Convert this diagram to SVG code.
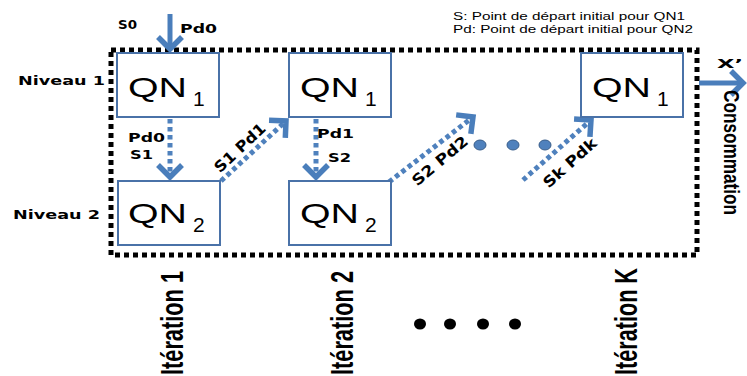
<svg xmlns="http://www.w3.org/2000/svg" width="747" height="376" viewBox="0 0 747 376">
<style>
.box{fill:#fff;stroke:#4a72a8;stroke-width:2}
.qn{font-family:"Liberation Sans",Arial,sans-serif;font-size:28px;fill:#000}
.sub{font-family:"Liberation Sans",Arial,sans-serif;font-size:21px;fill:#000}
.lbl{font-family:"DejaVu Sans",Verdana,sans-serif;font-weight:bold;font-size:13px;fill:#000}
.dlbl{font-family:"DejaVu Sans",Verdana,sans-serif;font-weight:bold;font-size:15px;fill:#000}
.leg{font-family:"Liberation Sans",Arial,sans-serif;font-size:10px;fill:#000}
.big{font-family:"Liberation Sans",Arial,sans-serif;font-weight:bold;font-size:31px;fill:#000}
.cons{font-family:"Liberation Sans",Arial,sans-serif;font-weight:bold;font-size:22px;fill:#000}
.solid{stroke:#4a7ebb;stroke-width:5;fill:none}
.dot{stroke:#4f81bd;stroke-width:5;fill:none;stroke-dasharray:4.5 3.5}
.frame{fill:none;stroke:#000;stroke-width:5;stroke-dasharray:5 4}
.bdot{fill:#4f81bd;stroke:#385d8a;stroke-width:1}
</style>
<defs>
<marker id="chev" markerUnits="userSpaceOnUse" markerWidth="30" markerHeight="30" refX="0" refY="0" orient="auto" overflow="visible">
<path d="M-12,-12 L0,0 L-12,12" fill="none" stroke="#4a7ebb" stroke-width="5.5" stroke-dasharray="none"/>
</marker>
</defs>

<rect class="frame" x="111" y="50" width="586" height="205"/>

<g id="legend">
<text class="leg" x="453" y="20" textLength="232" lengthAdjust="spacingAndGlyphs">S: Point de départ initial pour QN1</text>
<text class="leg" x="453" y="33" textLength="240" lengthAdjust="spacingAndGlyphs">Pd: Point de départ initial pour QN2</text>
</g>

<g id="levels">
<text class="lbl" x="18" y="85" textLength="87" lengthAdjust="spacingAndGlyphs">Niveau 1</text>
<text class="lbl" x="13" y="219" textLength="87" lengthAdjust="spacingAndGlyphs">Niveau 2</text>
</g>

<g id="connectors">
<line class="solid" x1="170" y1="14" x2="170" y2="49" marker-end="url(#chev)"/>
<line class="dot" x1="170" y1="119" x2="170" y2="177" marker-end="url(#chev)"/>
<line class="dot" x1="221" y1="181" x2="286" y2="121" marker-end="url(#chev)"/>
<line class="dot" x1="316" y1="119" x2="316" y2="177" marker-end="url(#chev)"/>
<line class="dot" x1="389" y1="182" x2="473" y2="117" marker-end="url(#chev)"/>
<line class="dot" x1="523" y1="180" x2="591" y2="120" marker-end="url(#chev)"/>
<line class="solid" x1="699" y1="83" x2="743" y2="83" marker-end="url(#chev)"/>
<text class="lbl" x="118" y="29" textLength="19" lengthAdjust="spacingAndGlyphs">S0</text>
<text class="lbl" x="180" y="33" textLength="37" lengthAdjust="spacingAndGlyphs">Pd0</text>
<text class="lbl" x="128" y="142" textLength="37" lengthAdjust="spacingAndGlyphs">Pd0</text>
<text class="lbl" x="130" y="159" textLength="23" lengthAdjust="spacingAndGlyphs">S1</text>
<text class="lbl" x="317" y="138" textLength="37" lengthAdjust="spacingAndGlyphs">Pd1</text>
<text class="lbl" x="328" y="162" textLength="23" lengthAdjust="spacingAndGlyphs">S2</text>
<text class="dlbl" transform="translate(240,148) rotate(-43)" x="0" y="5" text-anchor="middle" textLength="64" lengthAdjust="spacingAndGlyphs">S1 Pd1</text>
<text class="dlbl" transform="translate(440,161) rotate(-40)" x="0" y="5" text-anchor="middle" textLength="68" lengthAdjust="spacingAndGlyphs">S2 Pd2</text>
<text class="dlbl" transform="translate(570,163) rotate(-42)" x="0" y="5" text-anchor="middle" textLength="66" lengthAdjust="spacingAndGlyphs">Sk Pdk</text>
<text class="lbl" x="717" y="68" font-size="20" textLength="26" lengthAdjust="spacingAndGlyphs">X’</text>
<text class="cons" transform="translate(724,90) rotate(90)" x="0" y="0" textLength="125" lengthAdjust="spacingAndGlyphs">Consommation</text>
</g>

<g id="qn1-it1"><rect class="box" x="117" y="53" width="102" height="64"/><text class="qn" x="128" y="97" textLength="59" lengthAdjust="spacingAndGlyphs">QN</text><text class="sub" x="193" y="106">1</text></g>
<g id="qn1-it2"><rect class="box" x="289" y="53" width="102" height="64"/><text class="qn" x="300" y="97" textLength="59" lengthAdjust="spacingAndGlyphs">QN</text><text class="sub" x="365" y="106">1</text></g>
<g id="qn1-itk"><rect class="box" x="581" y="53" width="102" height="64"/><text class="qn" x="592" y="97" textLength="59" lengthAdjust="spacingAndGlyphs">QN</text><text class="sub" x="657" y="106">1</text></g>
<g id="qn2-it1"><rect class="box" x="118" y="181" width="102" height="64"/><text class="qn" x="128" y="223" textLength="59" lengthAdjust="spacingAndGlyphs">QN</text><text class="sub" x="193" y="232">2</text></g>
<g id="qn2-it2"><rect class="box" x="289" y="181" width="102" height="64"/><text class="qn" x="300" y="223" textLength="59" lengthAdjust="spacingAndGlyphs">QN</text><text class="sub" x="365" y="232">2</text></g>

<g id="blue-dots">
<ellipse class="bdot" cx="480" cy="145" rx="6" ry="5"/>
<ellipse class="bdot" cx="513" cy="145" rx="6" ry="5"/>
<ellipse class="bdot" cx="545" cy="145" rx="6" ry="5"/>
</g>

<g id="iterations">
<text class="big" transform="translate(183,375) rotate(-90)" x="0" y="0" textLength="104" lengthAdjust="spacingAndGlyphs">Itération 1</text>
<text class="big" transform="translate(353,375) rotate(-90)" x="0" y="0" textLength="104" lengthAdjust="spacingAndGlyphs">Itération 2</text>
<text class="big" transform="translate(637,375) rotate(-90)" x="0" y="0" textLength="107" lengthAdjust="spacingAndGlyphs">Itération K</text>
<ellipse cx="420" cy="324" rx="6" ry="5.5" fill="#000"/>
<ellipse cx="450" cy="324" rx="6" ry="5.5" fill="#000"/>
<ellipse cx="483" cy="324" rx="6" ry="5.5" fill="#000"/>
<ellipse cx="515" cy="324" rx="6" ry="5.5" fill="#000"/>
</g>
</svg>
